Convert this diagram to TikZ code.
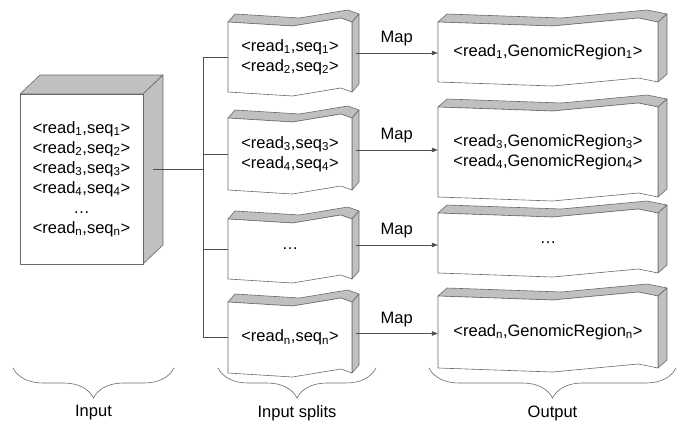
\documentclass[tikz,border=0pt]{standalone}
\usepackage{fontspec}
\setmainfont{Liberation Sans}
\usetikzlibrary{arrows.meta,positioning,calc,decorations.pathreplacing}
\definecolor{faceclr}{RGB}{192,192,192}
\definecolor{edgeclr}{RGB}{105,105,105}
\definecolor{lineclr}{RGB}{80,80,80}
\tikzset{
  face/.style={fill=faceclr, draw=edgeclr, line width=0.6pt, line join=round},
  front/.style={fill=white, draw=edgeclr, line width=0.6pt, line join=round},
  txt/.style={inner sep=0pt, align=center, font=\fontsize{16.5}{20}\selectfont},
  link/.style={draw=lineclr, line width=0.6pt},
  guide/.style={link, -{Triangle[length=6pt,width=4.5pt]}},
  brc/.style={draw=edgeclr, line width=0.6pt, decorate,
    decoration={brace, mirror, amplitude=30pt}},
  lbl/.style={font=\fontsize{16.5}{20}\selectfont},
}
% plain block: name, cx, cy, width, height, dx, dy, text
\newcommand{\cuboid}[8]{%
  \begin{scope}[shift={(#2,#3)}]
    \pgfmathsetmacro{\bxl}{-#4/2}\pgfmathsetmacro{\bxr}{#4/2}
    \pgfmathsetmacro{\byt}{-#5/2}\pgfmathsetmacro{\byb}{#5/2}
    \filldraw[face] (\bxl,\byt) -- ++(#6,#7) -- (\bxr+#6,\byt+#7) -- (\bxr,\byt) -- cycle;
    \filldraw[face] (\bxr,\byt) -- ++(#6,#7) -- (\bxr+#6,\byb+#7) -- (\bxr,\byb) -- cycle;
    \filldraw[front] (\bxl,\byt) rectangle (\bxr,\byb);
    \node[txt, minimum width=#4, minimum height=#5] (#1) at (0,0) {#8};
    \coordinate (#1-r) at (\bxr+#6/2,#7/2);
  \end{scope}}
% torn block: name, cx, cy, width, height, dx, dy, text
\newcommand{\wavebox}[8]{%
  \begin{scope}[shift={(#2,#3)}]
    \pgfmathsetmacro{\bxl}{-#4/2}\pgfmathsetmacro{\bxr}{#4/2}
    \pgfmathsetmacro{\bxa}{0.02*#4}\pgfmathsetmacro{\bxb}{0.41*#4}
    \pgfmathsetmacro{\byt}{-#5/2}\pgfmathsetmacro{\byb}{#5/2}
    \filldraw[face] (\bxl,\byt) -- (\bxa,\byt+4) -- (\bxb,\byt-4) -- (\bxr,\byt)
      -- ++(#6,#7) -- (\bxb+#6,\byt-4+#7) -- (\bxa+#6,\byt+4+#7) -- (\bxl+#6,\byt+#7) -- cycle;
    \filldraw[face] (\bxr,\byt) -- ++(#6,#7) -- (\bxr+#6,\byb+#7) -- (\bxr,\byb) -- cycle;
    \filldraw[front] (\bxl,\byt) -- (\bxa,\byt+4) -- (\bxb,\byt-4) -- (\bxr,\byt)
      -- (\bxr,\byb) -- (\bxb,\byb-4) -- (\bxa,\byb+4) -- (\bxl,\byb) -- cycle;
    \node[txt, minimum width=#4, minimum height=#5] (#1) at (0,0) {#8};
    \coordinate (#1-r) at (\bxr+#6/2,#7/2);
  \end{scope}}

\begin{document}
\begin{tikzpicture}[x=1pt, y=-1pt]
  \useasboundingbox (0,0) rectangle (685,428);
  % input
  \cuboid{in}{81.5}{179}{123}{170}{20}{-19}{%
    <read\textsubscript{1},seq\textsubscript{1}>\\
    <read\textsubscript{2},seq\textsubscript{2}>\\
    <read\textsubscript{3},seq\textsubscript{3}>\\
    <read\textsubscript{4},seq\textsubscript{4}>\\
    \dots\\
    <read\textsubscript{n},seq\textsubscript{n}>}
  % input splits
  \wavebox{s1}{290}{57}{124}{70}{7}{-8}{%
    <read\textsubscript{1},seq\textsubscript{1}>\\
    <read\textsubscript{2},seq\textsubscript{2}>}
  \wavebox{s2}{290}{154}{124}{72}{7}{-8}{%
    <read\textsubscript{3},seq\textsubscript{3}>\\
    <read\textsubscript{4},seq\textsubscript{4}>}
  \wavebox{s3}{290}{249}{124}{60}{7}{-8}{\dots}
  \wavebox{s4}{290}{337.5}{124}{71}{7}{-8}{%
    <read\textsubscript{n},seq\textsubscript{n}>}
  % output
  \wavebox{o1}{548}{52}{220}{60}{9}{-8}{%
    <read\textsubscript{1},GenomicRegion\textsubscript{1}>}
  \wavebox{o2}{548}{152}{220}{90}{9}{-8}{%
    <read\textsubscript{3},GenomicRegion\textsubscript{3}>\\
    <read\textsubscript{4},GenomicRegion\textsubscript{4}>}
  \wavebox{o3}{548}{243}{220}{60}{9}{-8}{\dots}
  \wavebox{o4}{548}{332}{220}{72}{9}{-8}{%
    <read\textsubscript{n},GenomicRegion\textsubscript{n}>}
  % split lines
  \coordinate (bus) at (203,0);
  \draw[link] (in-r) -- (in-r -| bus);
  \draw[link] (s1.west) -- (s1.west -| bus) -- (s4.west -| bus) -- (s4.west);
  \foreach \n in {2,3}{
    \draw[link] (s\n.west) -- (s\n.west -| bus);
  }
  % map arrows
  \foreach \n in {1,...,4}{
    \draw[guide] (s\n-r) -- (s\n-r -| o\n.west) node[lbl, midway, above=3pt]{Map};
  }
  % braces
  \draw[brc] (13,368) -- (174,368) node[lbl, midway, yshift=-45pt]{Input};
  \draw[brc] (218,368) -- (376,368) node[lbl, midway, yshift=-45pt]{Input splits};
  \draw[brc] (429,368) -- (676,368) node[lbl, midway, yshift=-45pt]{Output};
\end{tikzpicture}
\end{document}
